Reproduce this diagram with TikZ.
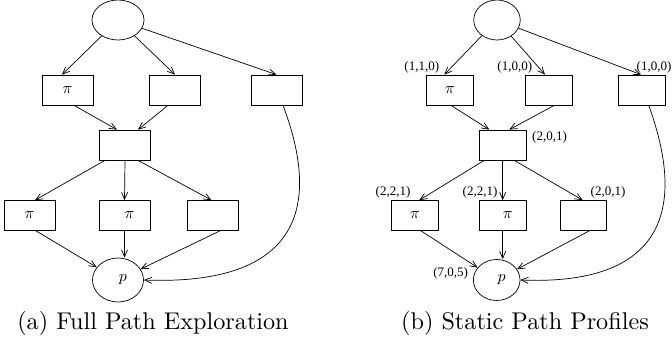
\documentclass[tikz,border=0pt]{standalone}
\usepackage{fontspec}
\newfontfamily\lblfont{Liberation Serif}
\usetikzlibrary{arrows.meta,shapes.geometric}
\begin{document}
\begin{tikzpicture}[x=1pt,y=-1pt,
  line width=0.7pt,
  flow/.style={-{Straight Barb[length=7pt,width=6pt]}},
  blk/.style={draw, rectangle, minimum width=51pt, minimum height=30pt, inner sep=0pt},
  blkn/.style={blk, minimum width=46.7pt},
  oval/.style={draw, ellipse, minimum width=52pt, minimum height=40pt, inner sep=0pt},
  ovaln/.style={oval, minimum width=46.5pt},
  tag/.style={font=\lblfont\fontsize{13}{15}\selectfont, inner sep=0pt},
  captext/.style={inner sep=0pt, scale=2.42}
]
\newcommand{\pisym}{\scalebox{1.6}{$\pi$}}
\newcommand{\psym}{\scalebox{1.6}{$p$}}

% ---------- (a) full path exploration ----------
\node[oval] (t) at (118,20) {};
\node[blk] (b1) at (67.5,90) {\pisym};
\node[blk] (b2) at (175,90) {};
\node[blk] (b3) at (276.5,90) {};
\node[blk] (m) at (125,145) {};
\node[blk] (c1) at (29.5,215.5) {\pisym};
\node[blk] (c2) at (124.5,215.5) {\hspace*{10pt}\pisym};
\node[blk] (c3) at (212.5,215.5) {};
\node[oval, minimum width=51pt, minimum height=44pt] (p) at (118,280) {\hspace*{10pt}\psym};

\draw[flow] (t) -- ([xshift=-5.5pt]b1.north);
\draw[flow] (t) -- (b2.north);
\draw[flow] (t) -- (b3.north);
\draw[flow] ([xshift=6.5pt]b1.south) -- ([xshift=-8pt]m.north);
\draw[flow] ([xshift=-7pt]b2.south) -- ([xshift=13pt]m.north);
\draw[flow] ([xshift=-20pt]m.south) -- ([xshift=5.5pt]c1.north);
\draw[flow] (m.south) -- (c2.north);
\draw[flow] ([xshift=13pt]m.south) -- ([xshift=-1pt]c3.north);
\draw[flow] ([xshift=6.5pt]c1.south) -- (p);
\draw[flow] (c2.south) -- (c2.south |- p.north);
\draw[flow] ([xshift=7.5pt]c3.south) -- (p);
\draw[flow] ([xshift=6.5pt]b3.south) .. controls (330,230) and (275,285) .. (p.east);

\node[captext, anchor=base] (capa) at (153,329.3) {(a) Full Path Exploration};

% ---------- (b) static path profiles ----------
\node[ovaln] (tr) at (497,20) {};
\node[blkn] (b1r) at (450,90) {\pisym};
\node[blkn] (b2r) at (549,90) {};
\node[blkn] (b3r) at (642,90) {};
\node[blkn] (mr) at (502.7,145) {};
\node[blkn] (c1r) at (415,215.5) {\pisym};
\node[blkn] (c2r) at (502.7,215.5) {\hspace*{10pt}\pisym};
\node[blkn] (c3r) at (583.3,215.5) {};
\node[oval, minimum width=46.7pt, minimum height=41pt] (pr) at (496.7,280) {\hspace*{10pt}\psym};

\draw[flow] (tr) -- ([xshift=-5.7pt]b1r.north);
\draw[flow] (tr) -- ([xshift=-4pt]b2r.north);
\draw[flow] (tr) -- ([xshift=-1pt]b3r.north);
\draw[flow] ([xshift=1pt]b1r.south) -- ([xshift=-13.4pt]mr.north);
\draw[flow] ([xshift=5.3pt]b2r.south) -- ([xshift=6.6pt]mr.north);
\draw[flow] ([xshift=-18.4pt]mr.south) -- ([xshift=4.3pt]c1r.north);
\draw[flow] (mr.south) -- (c2r.north);
\draw[flow] ([xshift=11.6pt]mr.south) -- ([xshift=-0.6pt]c3r.north);
\draw[flow] ([xshift=6pt]c1r.south) -- (pr);
\draw[flow] (c2r.south) -- (c2r.south |- pr.north);
\draw[flow] ([xshift=6pt]c3r.south) -- (pr);
\draw[flow] ([xshift=6.7pt]b3r.south) .. controls (694,230) and (642.8,285) .. (pr.east);

\node[tag] (l1) at (421.8,67) {(1,1,0)};
\node[tag] (l2) at (514.8,67) {(1,0,0)};
\node[tag] (l3) at (654,67) {(1,0,0)};
\node[tag] (l4) at (549.5,137) {(2,0,1)};
\node[tag] (l5) at (393,192.7) {(2,2,1)};
\node[tag] (l6) at (480,192.7) {(2,2,1)};
\node[tag] (l7) at (608,192.7) {(2,0,1)};
\node[tag] (l8) at (450.7,273) {(7,0,5)};

\node[captext, anchor=base] (capb) at (525,329.3) {(b) Static Path Profiles};

\pgfresetboundingbox
\path[use as bounding box] (0,0) rectangle (672,343);
\end{tikzpicture}
\end{document}
